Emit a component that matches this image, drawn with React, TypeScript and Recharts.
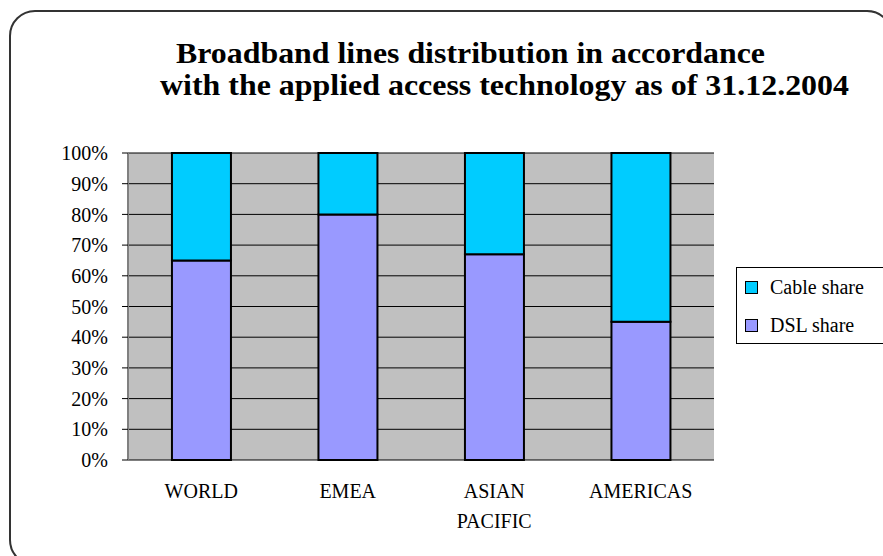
import React from "react";
import { BarChart, Bar, XAxis, YAxis, CartesianGrid } from "recharts";

const regions = ["WORLD", "EMEA", "ASIAN PACIFIC", "AMERICAS"];
const dslShare = [65, 80, 67, 45];
const cableShare = [35, 20, 33, 55];
const percentTicks = [0, 10, 20, 30, 40, 50, 60, 70, 80, 90, 100];
const edgeTicks = [0, 1, 2, 3, 4];
const titleLines = [
  "Broadband lines distribution in accordance",
  "with the applied access technology as of 31.12.2004",
];

const rows = regions.map((region, i) => ({
  region,
  dsl: dslShare[i],
  cable: cableShare[i],
}));

const SERIF = "Liberation Serif";
const CABLE = "#00ccff";
const DSL = "#9999ff";

const legendItems = [
  { name: "Cable share", color: CABLE },
  { name: "DSL share", color: DSL },
];

// region names with a space wrap onto two lines, like the original
function RegionTick({ x, y, payload }: any) {
  const words = String(payload.value).split(" ");
  return (
    <text x={x} y={y} textAnchor="middle" fontFamily={SERIF} fontSize={20} fill="#000">
      {words.map((w, i) => (
        <tspan key={w} x={x} dy={i === 0 ? 38 : 30}>
          {w}
        </tspan>
      ))}
    </text>
  );
}

export default function App() {
  return (
    <div
      style={{
        position: "fixed",
        left: 0,
        top: 0,
        width: 883,
        height: 556,
        overflow: "hidden",
        background: "#fff",
        fontFamily: SERIF,
      }}
    >
      <div
        style={{
          position: "absolute",
          left: 9,
          top: 10,
          width: 880,
          height: 552,
          border: "2px solid #333",
          borderRadius: 26,
        }}
      />
      <svg width={883} height={120} style={{ position: "absolute", left: 0, top: 0 }}>
        <text
          x={176}
          y={63}
          fontFamily={SERIF}
          fontWeight="bold"
          fontSize={29}
          textLength={589}
          lengthAdjust="spacingAndGlyphs"
        >
          {titleLines[0]}
        </text>
        <text
          x={160}
          y={95}
          fontFamily={SERIF}
          fontWeight="bold"
          fontSize={29}
          textLength={689}
          lengthAdjust="spacingAndGlyphs"
        >
          {titleLines[1]}
        </text>
      </svg>
      <div style={{ position: "absolute", left: 0, top: 0 }}>
        <BarChart
          width={883}
          height={556}
          data={rows}
          margin={{ top: 153, right: 169, bottom: 56, left: 0 }}
          barCategoryGap="30%"
        >
          <CartesianGrid
            yAxisId="left"
            vertical={false}
            fill="#c0c0c0"
            fillOpacity={1}
            stroke="#000"
            strokeOpacity={1}
          />
          <XAxis
            xAxisId="edges"
            type="number"
            domain={[0, 4]}
            ticks={edgeTicks}
            tick={false}
            tickSize={6}
            height={0}
            axisLine={{ stroke: "#404040", strokeWidth: 1.5 }}
            tickLine={{ stroke: "#404040", strokeWidth: 1.5 }}
          />
          <XAxis
            dataKey="region"
            height={40}
            axisLine={false}
            tickLine={false}
            tickSize={0}
            tickMargin={0}
            interval={0}
            tick={<RegionTick />}
          />
          <XAxis
            xAxisId="top"
            orientation="top"
            type="number"
            domain={[0, 4]}
            height={0}
            tick={false}
            tickLine={false}
            axisLine={{ stroke: "#808080", strokeWidth: 2 }}
          />
          <YAxis
            yAxisId="left"
            width={128}
            domain={[0, 100]}
            ticks={percentTicks}
            tickFormatter={(v) => `${v}%`}
            tickSize={6}
            tickMargin={14}
            interval={0}
            axisLine={{ stroke: "#808080", strokeWidth: 2 }}
            tickLine={{ stroke: "#000" }}
            tick={{ fontFamily: SERIF, fontSize: 20, fill: "#000" }}
          />
          <YAxis
            yAxisId="right"
            orientation="right"
            width={0}
            domain={[0, 100]}
            tick={false}
            tickLine={false}
            axisLine={{ stroke: "#808080", strokeWidth: 2 }}
          />
          <Bar
            yAxisId="left"
            dataKey="dsl"
            name="DSL share"
            stackId="a"
            fill={DSL}
            stroke="#000"
            strokeWidth={2}
            isAnimationActive={false}
          />
          <Bar
            yAxisId="left"
            dataKey="cable"
            name="Cable share"
            stackId="a"
            fill={CABLE}
            stroke="#000"
            strokeWidth={2}
            isAnimationActive={false}
          />
        </BarChart>
      </div>
      <div
        style={{
          position: "absolute",
          left: 736,
          top: 267,
          width: 160,
          height: 75,
          border: "1px solid #000",
          background: "#fff",
          fontFamily: SERIF,
          fontSize: 20,
        }}
      >
        {legendItems.map((item, i) => (
          <div
            key={item.name}
            style={{
              position: "absolute",
              left: 8,
              top: i === 0 ? 8 : 46,
              display: "flex",
              alignItems: "center",
              gap: 12,
              lineHeight: "23px",
            }}
          >
            <span
              style={{
                display: "inline-block",
                width: 11,
                height: 11,
                background: item.color,
                border: "1.5px solid #000",
              }}
            />
            <span>{item.name}</span>
          </div>
        ))}
      </div>
    </div>
  );
}
